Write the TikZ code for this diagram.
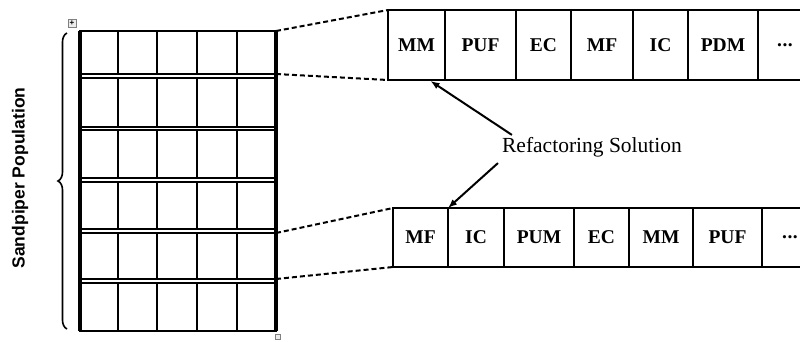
\documentclass[tikz,border=0pt]{standalone}
\usepackage{fontspec}
\setmainfont{Liberation Serif}
\newfontfamily\lsans{Liberation Sans}
\usetikzlibrary{decorations.pathreplacing,calc,arrows.meta}
\newcommand\celldots{.\kern0.5pt.\kern0.5pt.}
\tikzset{
  rowbox/.style={draw, line width=2.2pt, minimum width=196pt, inner sep=0pt, outer sep=0pt},
  gridline/.style={line width=2.2pt},
  outerline/.style={line width=3.4pt},
  cellbox/.style={draw, line width=2pt, inner sep=0pt, outer sep=0pt, anchor=north west,
     font=\bfseries\fontsize{19.5}{20}\selectfont},
  dashconn/.style={line width=2pt, dash pattern=on 5pt off 3pt},
  refarrow/.style={line width=2pt, -{Latex[length=9pt,width=7pt]}},
  handle/.style={draw=gray, fill=gray!15, line width=0.7pt, minimum size=8pt, inner sep=0pt}
}
\begin{document}
\begin{tikzpicture}[x=1pt,y=-1pt]
\useasboundingbox (0,0) rectangle (800,341);
% population grid
\foreach \i/\t/\b in {1/31/74,2/78/127,3/130/178,4/182/229,5/233/279,6/283/331}{
  \node[rowbox, minimum height={\b-\t}, anchor=north west] (row\i) at (80,\t) {};
  \foreach \x in {118,157,197,237} \draw[gridline] (\x,\t) -- (\x,\b);
}
\draw[outerline] (row1.north west) -- (row6.south west);
\draw[outerline] (row1.north east) -- (row6.south east);
% handles
\node[handle, font=\lsans\bfseries\fontsize{8}{8}\selectfont] (h1) at (72,23) {+};
\node[handle, minimum size=5pt] (h2) at (278,337) {};
% brace and label
\draw[line width=1.6pt, decorate, decoration={brace, amplitude=9pt}] (67,329) -- (67,33);
\node[rotate=90, font=\lsans\bfseries\fontsize{17.5}{18}\selectfont] (pop) at (20,178) {Sandpiper Population};
% top solution
\foreach \i/\l/\r/\txt in {1/388/445/MM,2/445/516/PUF,3/516/571/EC,4/571/633/MF,5/633/688/IC,6/688/758/PDM,7/758/812/\celldots}{
  \node[cellbox, minimum width={\r-\l}, minimum height=70pt] (t\i) at (\l,10) {\txt};
}
% bottom solution
\foreach \i/\l/\r/\txt in {1/393/448/MF,2/448/504/IC,3/504/574/PUM,4/574/629/EC,5/629/693/MM,6/693/762/PUF,7/762/818/\celldots}{
  \node[cellbox, minimum width={\r-\l}, minimum height=59pt] (b\i) at (\l,208) {\txt};
}
% dashed connectors
\draw[dashconn] (row1.north east) -- (t1.north west);
\draw[dashconn] (row1.south east) -- (t1.south west);
\draw[dashconn] (row5.north east) -- (b1.north west);
\draw[dashconn] (row5.south east) -- (b1.south west);
% label and arrows
\node[inner sep=0pt, font=\fontsize{21.5}{24}\selectfont] (ref) at (592,147) {Refactoring Solution};
\draw[refarrow] ($(ref.north west)+(10,-2)$) -- ($(t1.south)+(14,1)$);
\draw[refarrow] ($(ref.south west)+(-4,6)$) -- (b1.north east);
\end{tikzpicture}
\end{document}
